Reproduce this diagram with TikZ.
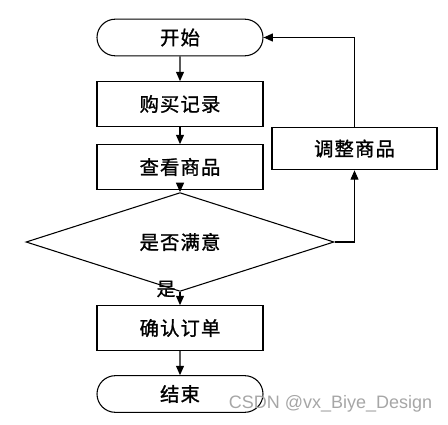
\documentclass[tikz,border=0pt]{standalone}
\usepackage{fontspec}
\newfontfamily\cjk[LetterSpace=6,FakeBold=1.2]{Noto Sans CJK SC}
\newfontfamily\cjklabel[FakeBold=1.2]{Noto Sans CJK SC}
\newfontfamily\wmfont{Liberation Sans}
\usetikzlibrary{arrows.meta,shapes.geometric,shapes.misc}
\begin{document}
\begin{tikzpicture}[x=0.75pt,y=-0.75pt,
  line width=0.8pt,
  every node/.style={font=\cjk\fontsize{14.5}{16}\selectfont, inner sep=0pt},
  box/.style={draw, rectangle, minimum width=124.5pt, minimum height=33.5pt},
  term/.style={draw, rounded rectangle, minimum width=124.5pt, minimum height=27.5pt},
  dec/.style={draw, diamond, minimum width=231pt, minimum height=48pt},
  flow/.style={-{Triangle[width=6pt,length=7pt]}}]
\useasboundingbox (0,0) rectangle (448,424);
\node[term] (start) at (180,37.5) {开始};
\node[box] (rec) at (180,104) {购买记录};
\node[box] (view) at (180,167) {查看商品};
\node[dec] (sat) at (180,242) {是否满意};
\node[box] (conf) at (180,328) {确认订单};
\node[term] (end) at (180,394) {结束};
\node[box, minimum width=123.75pt, minimum height=32pt] (adj) at (354.5,148.5) {调整商品};
\draw[flow] (start) -- (rec);
\draw[flow] (rec) -- (view);
\draw[flow] (view) -- (sat);
\draw[flow] (sat) -- (conf);
\draw[flow] (conf) -- (end);
\draw[flow] (sat.east) -| (adj.south);
\draw[flow] (adj.north) |- (start.east);
\node[font=\cjklabel\fontsize{14}{16}\selectfont] (yes) at (166,289) {是};
\node[font=\wmfont\fontsize{13.5}{15}\selectfont, text=black!35] (wm) at (330.5,404) {CSDN @vx\_Biye\_Design};
\end{tikzpicture}
\end{document}
